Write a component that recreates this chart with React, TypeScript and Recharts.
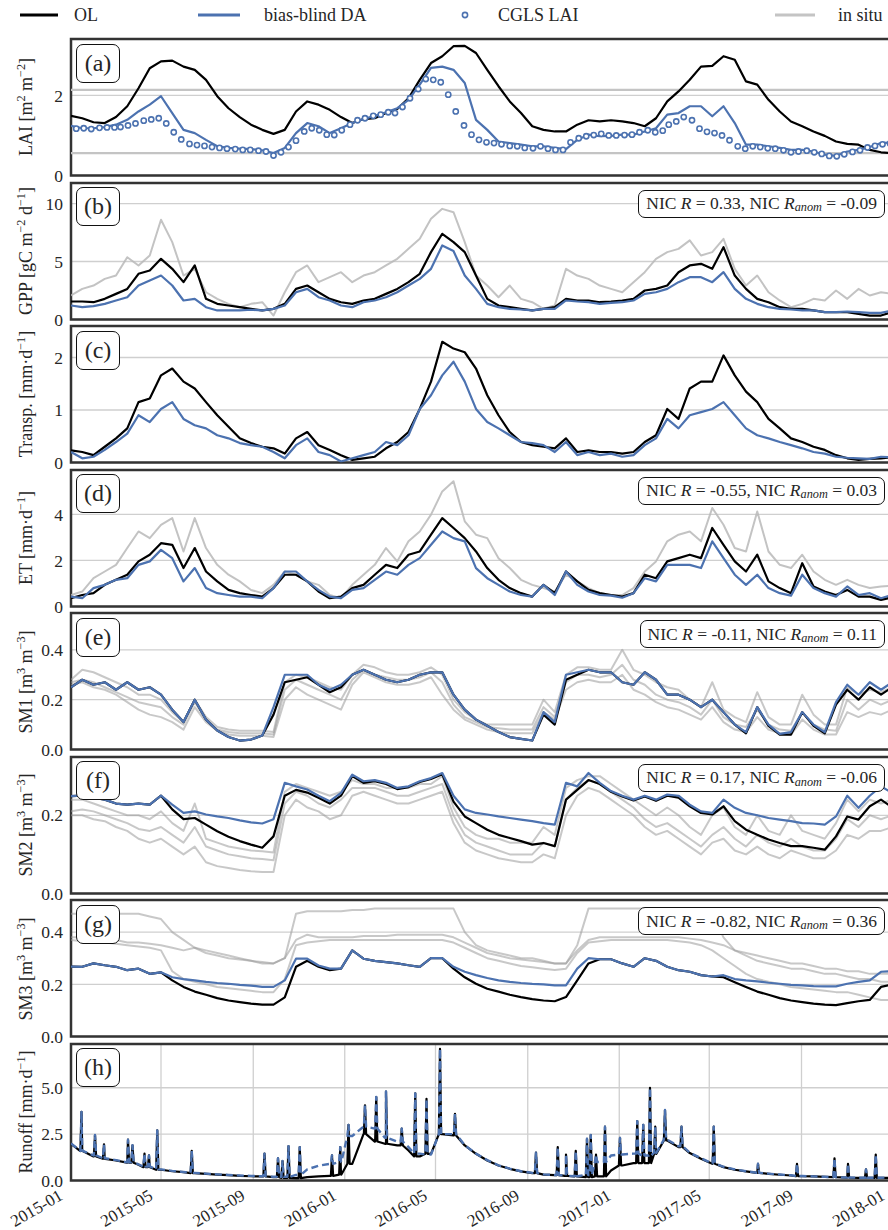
import React from 'react';
import {
  CartesianGrid,
  Line,
  LineChart,
  ReferenceArea,
  ReferenceLine,
  XAxis,
  YAxis,
} from 'recharts';

const OL_COLOR = '#000000';
const DA_COLOR = '#4c72b0';
const INSITU_COLOR = '#9a9a9a';
const FONT = '"Liberation Serif", "DejaVu Serif", serif';

// values are sampled every 15 days from 2015-01-01
const STEP = 15;
const tickDays = [0, 120, 243, 365, 486, 609, 731, 851, 974, 1096];
const tickLabels = ['2015-01', '2015-05', '2015-09', '2016-01', '2016-05', '2016-09', '2017-01', '2017-05', '2017-09', '2018-01'];

// (a) LAI
const laiOL = [1.49, 1.43, 1.33, 1.31, 1.46, 1.73, 2.18, 2.68, 2.85, 2.87, 2.72, 2.64, 2.39, 1.98, 1.68, 1.46, 1.27, 1.14, 1.04, 1.14, 1.6, 1.85, 1.77, 1.64, 1.46, 1.31, 1.41, 1.43, 1.56, 1.66, 1.93, 2.39, 2.81, 2.98, 3.23, 3.24, 3.06, 2.64, 2.23, 1.85, 1.56, 1.23, 1.14, 1.1, 1.1, 1.27, 1.38, 1.35, 1.38, 1.35, 1.31, 1.23, 1.43, 1.85, 2.1, 2.39, 2.72, 2.74, 2.98, 2.89, 2.35, 2.27, 1.89, 1.6, 1.35, 1.23, 1.1, 0.99, 0.85, 0.79, 0.77, 0.64, 0.58, 0.56];
const laiDA = [1.24, 1.18, 1.18, 1.21, 1.27, 1.39, 1.6, 1.77, 1.98, 1.56, 1.14, 1.06, 0.89, 0.73, 0.69, 0.67, 0.66, 0.63, 0.56, 0.69, 1.06, 1.31, 1.23, 1.06, 1.18, 1.31, 1.41, 1.49, 1.58, 1.68, 1.89, 2.27, 2.69, 2.72, 2.64, 2.31, 1.39, 1.14, 0.85, 0.81, 0.77, 0.73, 0.73, 0.69, 0.66, 0.89, 1.02, 0.98, 0.99, 1.02, 1.02, 1.1, 1.18, 1.52, 1.56, 1.73, 1.73, 1.48, 1.73, 1.31, 0.77, 0.77, 0.73, 0.69, 0.64, 0.64, 0.6, 0.52, 0.49, 0.6, 0.64, 0.71, 0.81, 0.83];
// CGLS LAI, three values per month (dekads)
const cglsDekadDays = [8, 18, 28];
const cglsLai = [
  1.17, 1.18, 1.16, 1.19, 1.2, 1.2, 1.21, 1.25, 1.3, 1.37, 1.4, 1.43, 1.3, 1.08, 0.9, 0.79, 0.76, 0.74, 0.71, 0.69, 0.67, 0.66, 0.64, 0.64, 0.62, 0.6, 0.5, 0.58, 0.71, 0.87, 1.1, 1.18, 1.13, 1.02, 1.01, 1.13,
  1.27, 1.38, 1.43, 1.49, 1.52, 1.58, 1.56, 1.71, 1.93, 2.16, 2.41, 2.39, 2.33, 2.02, 1.6, 1.25, 1.02, 0.89, 0.83, 0.81, 0.78, 0.74, 0.73, 0.69, 0.68, 0.73, 0.67, 0.64, 0.64, 0.83, 0.93, 0.98, 1.01, 1.04, 1.0, 1.0,
  1.01, 1.02, 1.08, 1.13, 1.08, 1.12, 1.27, 1.35, 1.46, 1.38, 1.17, 1.09, 1.06, 1.0, 0.88, 0.73, 0.67, 0.73, 0.71, 0.68, 0.67, 0.63, 0.58, 0.6, 0.62, 0.58, 0.54, 0.49, 0.48, 0.53, 0.59, 0.63, 0.7, 0.74, 0.78, 0.8,
];
const laiInsitu = [2.14, 0.56];

// (b) GPP
const gppOL = [1.55, 1.55, 1.49, 1.78, 2.21, 2.64, 3.94, 4.23, 5.23, 4.37, 3.22, 4.66, 1.78, 1.35, 1.21, 1.06, 0.92, 0.78, 0.92, 1.35, 2.64, 2.93, 2.35, 1.78, 1.49, 1.35, 1.64, 1.78, 2.21, 2.64, 3.22, 3.94, 5.81, 7.39, 6.67, 5.81, 3.79, 1.78, 1.21, 1.06, 0.92, 0.78, 0.92, 1.06, 1.78, 1.64, 1.64, 1.49, 1.55, 1.64, 1.78, 2.5, 2.64, 2.93, 4.08, 4.66, 4.8, 4.37, 6.24, 3.79, 2.64, 1.78, 1.49, 1.06, 0.92, 0.92, 0.78, 0.63, 0.63, 0.63, 0.49, 0.34, 0.34, 0.63];
const gppDA = [1.21, 1.06, 1.15, 1.35, 1.64, 1.92, 2.93, 3.36, 3.79, 2.93, 1.64, 1.78, 1.06, 0.78, 0.78, 0.78, 0.84, 0.78, 0.92, 1.21, 2.35, 2.64, 1.92, 1.64, 1.21, 1.06, 1.49, 1.64, 1.92, 2.35, 2.93, 3.5, 4.37, 6.38, 5.9, 3.79, 2.64, 1.35, 1.06, 0.92, 0.86, 0.78, 0.92, 0.92, 1.64, 1.55, 1.49, 1.35, 1.44, 1.49, 1.64, 2.21, 2.35, 2.64, 3.22, 3.65, 3.65, 3.22, 4.08, 2.64, 1.78, 1.35, 1.06, 0.92, 0.86, 0.78, 0.78, 0.63, 0.63, 0.69, 0.63, 0.57, 0.57, 0.78];
const gppInsitu = [2.07, 2.64, 2.93, 3.5, 3.79, 5.37, 4.66, 5.52, 8.6, 6.67, 3.79, 4.37, 2.35, 1.78, 1.35, 1.06, 1.35, 1.49, 0.34, 2.35, 4.08, 4.66, 3.22, 3.65, 4.08, 3.22, 3.79, 4.08, 4.66, 5.23, 6.09, 6.96, 8.68, 9.54, 9.25, 6.67, 3.79, 2.93, 1.92, 2.93, 1.78, 1.49, 0.92, 1.21, 4.37, 3.79, 3.5, 2.93, 2.64, 2.35, 3.22, 4.08, 5.23, 5.81, 6.09, 6.82, 5.52, 5.81, 6.96, 4.37, 2.93, 3.79, 2.35, 1.64, 1.06, 1.35, 1.78, 1.64, 2.5, 1.78, 2.64, 2.07, 2.35, 2.2];

// (c) transpiration
const transpOL = [0.23, 0.2, 0.14, 0.3, 0.46, 0.65, 1.15, 1.22, 1.66, 1.79, 1.54, 1.41, 1.15, 0.9, 0.68, 0.46, 0.37, 0.3, 0.27, 0.17, 0.46, 0.58, 0.33, 0.24, 0.14, 0.05, 0.08, 0.11, 0.27, 0.39, 0.58, 1.02, 1.54, 2.3, 2.17, 2.1, 1.79, 1.28, 0.9, 0.58, 0.39, 0.33, 0.3, 0.27, 0.46, 0.2, 0.23, 0.2, 0.2, 0.17, 0.2, 0.39, 0.52, 1.02, 0.83, 1.41, 1.54, 1.54, 2.04, 1.66, 1.35, 1.15, 0.83, 0.65, 0.46, 0.39, 0.3, 0.24, 0.14, 0.08, 0.05, 0.07, 0.08, 0.1];
const transpDA = [0.2, 0.08, 0.11, 0.24, 0.39, 0.55, 0.9, 0.77, 1.02, 1.15, 0.83, 0.71, 0.65, 0.52, 0.46, 0.37, 0.33, 0.3, 0.2, 0.08, 0.33, 0.46, 0.2, 0.14, 0.02, 0.08, 0.14, 0.2, 0.39, 0.33, 0.52, 1.02, 1.28, 1.66, 1.92, 1.54, 1.02, 0.77, 0.65, 0.52, 0.39, 0.37, 0.33, 0.2, 0.39, 0.14, 0.2, 0.14, 0.17, 0.11, 0.14, 0.33, 0.46, 0.83, 0.65, 0.9, 0.96, 1.02, 1.15, 0.9, 0.65, 0.52, 0.46, 0.39, 0.33, 0.27, 0.2, 0.17, 0.11, 0.09, 0.08, 0.07, 0.11, 0.1];

// (d) ET
const etOL = [0.36, 0.5, 0.58, 0.94, 1.16, 1.38, 1.96, 2.25, 2.75, 2.68, 1.67, 2.54, 1.52, 1.09, 0.72, 0.58, 0.5, 0.43, 0.8, 1.38, 1.38, 1.09, 0.65, 0.36, 0.43, 0.8, 0.94, 1.38, 1.81, 1.67, 2.25, 2.39, 3.12, 3.84, 3.41, 2.97, 2.39, 1.67, 1.16, 0.8, 0.58, 0.43, 0.94, 0.58, 1.52, 1.09, 0.72, 0.58, 0.5, 0.43, 0.58, 1.38, 1.23, 1.96, 2.1, 2.25, 2.1, 3.41, 2.68, 1.96, 1.52, 2.25, 1.09, 0.8, 0.58, 1.88, 0.87, 0.65, 0.5, 0.72, 0.43, 0.43, 0.29, 0.4];
const etDA = [0.43, 0.36, 0.8, 0.94, 1.16, 1.23, 1.81, 1.96, 2.46, 2.1, 1.09, 1.67, 0.8, 0.58, 0.5, 0.43, 0.43, 0.36, 0.8, 1.52, 1.52, 1.09, 0.72, 0.43, 0.36, 0.72, 0.8, 1.16, 1.52, 1.38, 1.81, 2.1, 2.68, 3.26, 2.97, 2.83, 1.67, 1.23, 0.94, 0.65, 0.5, 0.43, 0.94, 0.5, 1.52, 0.94, 0.65, 0.5, 0.47, 0.38, 0.58, 1.23, 1.09, 1.81, 1.81, 1.81, 1.67, 2.83, 2.1, 1.38, 0.94, 1.38, 0.8, 0.58, 0.47, 1.38, 0.8, 0.58, 0.43, 0.87, 0.5, 0.58, 0.36, 0.5];
const etInsitu = [0.5, 0.65, 1.23, 1.52, 1.81, 2.54, 3.26, 2.97, 3.55, 3.84, 2.39, 3.84, 2.54, 1.81, 1.38, 1.09, 0.72, 0.58, 0.94, 1.52, 1.38, 1.09, 0.94, 0.5, 0.36, 0.94, 1.38, 1.81, 2.54, 1.96, 2.83, 3.26, 3.99, 5.0, 5.44, 3.7, 3.12, 2.97, 2.1, 1.67, 1.16, 0.94, 0.8, 0.65, 1.38, 1.09, 0.8, 0.58, 0.5, 0.5, 0.8, 1.52, 1.96, 2.83, 3.12, 3.26, 2.83, 4.28, 3.55, 2.54, 2.39, 4.13, 2.39, 1.81, 1.67, 2.25, 1.52, 1.16, 0.94, 1.16, 0.94, 0.8, 0.87, 0.9];

// (e) SM1
const sm1OL = [0.25, 0.28, 0.26, 0.27, 0.24, 0.27, 0.24, 0.25, 0.22, 0.16, 0.11, 0.2, 0.12, 0.076, 0.05, 0.036, 0.04, 0.056, 0.14, 0.27, 0.28, 0.29, 0.26, 0.23, 0.25, 0.3, 0.32, 0.3, 0.28, 0.27, 0.28, 0.3, 0.31, 0.31, 0.22, 0.16, 0.12, 0.095, 0.07, 0.05, 0.043, 0.036, 0.14, 0.1, 0.28, 0.3, 0.32, 0.31, 0.31, 0.27, 0.26, 0.31, 0.28, 0.22, 0.22, 0.2, 0.17, 0.2, 0.15, 0.1, 0.065, 0.17, 0.095, 0.06, 0.06, 0.15, 0.095, 0.065, 0.18, 0.24, 0.2, 0.25, 0.22, 0.25];
const sm1DA = [0.25, 0.28, 0.26, 0.27, 0.24, 0.27, 0.24, 0.25, 0.22, 0.16, 0.11, 0.2, 0.12, 0.076, 0.05, 0.036, 0.04, 0.056, 0.17, 0.3, 0.3, 0.3, 0.26, 0.24, 0.26, 0.3, 0.32, 0.3, 0.28, 0.27, 0.28, 0.3, 0.31, 0.31, 0.22, 0.16, 0.12, 0.095, 0.07, 0.05, 0.043, 0.036, 0.15, 0.11, 0.3, 0.31, 0.32, 0.31, 0.31, 0.27, 0.26, 0.31, 0.28, 0.22, 0.22, 0.2, 0.17, 0.2, 0.15, 0.1, 0.07, 0.17, 0.1, 0.063, 0.07, 0.15, 0.1, 0.07, 0.19, 0.26, 0.22, 0.27, 0.24, 0.27];
const sm1InsituA = [0.28, 0.32, 0.31, 0.29, 0.27, 0.25, 0.22, 0.22, 0.2, 0.15, 0.11, 0.2, 0.13, 0.09, 0.08, 0.075, 0.075, 0.075, 0.07, 0.27, 0.3, 0.29, 0.27, 0.25, 0.24, 0.3, 0.34, 0.33, 0.31, 0.3, 0.3, 0.31, 0.33, 0.3, 0.2, 0.15, 0.12, 0.1, 0.1, 0.1, 0.1, 0.1, 0.2, 0.15, 0.3, 0.33, 0.33, 0.32, 0.32, 0.4, 0.32, 0.3, 0.27, 0.25, 0.24, 0.2, 0.17, 0.27, 0.16, 0.13, 0.11, 0.23, 0.13, 0.1, 0.1, 0.22, 0.14, 0.1, 0.1, 0.25, 0.22, 0.24, 0.23, 0.25];
const sm1InsituB = [0.27, 0.28, 0.27, 0.25, 0.23, 0.21, 0.19, 0.18, 0.17, 0.13, 0.1, 0.19, 0.12, 0.08, 0.07, 0.065, 0.065, 0.065, 0.06, 0.24, 0.28, 0.26, 0.24, 0.22, 0.2, 0.28, 0.32, 0.3, 0.29, 0.28, 0.28, 0.29, 0.31, 0.27, 0.18, 0.13, 0.11, 0.09, 0.085, 0.08, 0.08, 0.08, 0.17, 0.13, 0.27, 0.3, 0.3, 0.29, 0.3, 0.34, 0.28, 0.26, 0.22, 0.2, 0.19, 0.17, 0.14, 0.2, 0.13, 0.1, 0.09, 0.16, 0.1, 0.08, 0.075, 0.15, 0.1, 0.08, 0.075, 0.2, 0.16, 0.2, 0.18, 0.2];
const sm1InsituC = [0.26, 0.27, 0.25, 0.24, 0.22, 0.19, 0.16, 0.14, 0.13, 0.11, 0.08, 0.17, 0.11, 0.075, 0.06, 0.055, 0.055, 0.055, 0.05, 0.2, 0.25, 0.22, 0.2, 0.18, 0.16, 0.26, 0.31, 0.29, 0.27, 0.26, 0.26, 0.27, 0.29, 0.22, 0.16, 0.12, 0.1, 0.08, 0.07, 0.065, 0.065, 0.065, 0.15, 0.12, 0.24, 0.27, 0.28, 0.27, 0.27, 0.3, 0.24, 0.22, 0.19, 0.17, 0.16, 0.14, 0.12, 0.17, 0.11, 0.08, 0.07, 0.13, 0.08, 0.065, 0.06, 0.12, 0.08, 0.06, 0.06, 0.15, 0.13, 0.15, 0.14, 0.16];

// (f) SM2
const sm2OL = [0.249, 0.25, 0.245, 0.24, 0.23, 0.227, 0.23, 0.227, 0.25, 0.215, 0.19, 0.193, 0.176, 0.159, 0.145, 0.134, 0.125, 0.117, 0.146, 0.25, 0.265, 0.258, 0.245, 0.23, 0.25, 0.3, 0.283, 0.287, 0.28, 0.267, 0.272, 0.285, 0.293, 0.305, 0.235, 0.197, 0.18, 0.163, 0.15, 0.142, 0.134, 0.125, 0.129, 0.121, 0.24, 0.265, 0.29, 0.28, 0.26, 0.248, 0.238, 0.248, 0.237, 0.25, 0.245, 0.223, 0.206, 0.202, 0.223, 0.185, 0.163, 0.15, 0.138, 0.129, 0.121, 0.121, 0.117, 0.112, 0.146, 0.197, 0.189, 0.223, 0.24, 0.22];
const sm2DA = [0.249, 0.25, 0.245, 0.24, 0.23, 0.227, 0.23, 0.227, 0.25, 0.227, 0.206, 0.21, 0.202, 0.197, 0.193, 0.187, 0.182, 0.179, 0.19, 0.283, 0.274, 0.266, 0.25, 0.236, 0.257, 0.304, 0.287, 0.29, 0.283, 0.27, 0.274, 0.287, 0.295, 0.308, 0.25, 0.215, 0.206, 0.202, 0.197, 0.193, 0.189, 0.185, 0.18, 0.176, 0.283, 0.274, 0.308, 0.283, 0.262, 0.25, 0.24, 0.25, 0.24, 0.253, 0.25, 0.227, 0.21, 0.206, 0.24, 0.219, 0.206, 0.2, 0.193, 0.189, 0.185, 0.18, 0.179, 0.176, 0.197, 0.25, 0.219, 0.25, 0.274, 0.257];
const sm2InsituA = [0.24, 0.24, 0.23, 0.22, 0.21, 0.2, 0.2, 0.19, 0.21, 0.18, 0.16, 0.23, 0.14, 0.13, 0.12, 0.115, 0.11, 0.108, 0.105, 0.26, 0.28, 0.27, 0.26, 0.25, 0.26, 0.29, 0.28, 0.28, 0.27, 0.27, 0.27, 0.28, 0.28, 0.3, 0.22, 0.17, 0.15, 0.14, 0.14, 0.13, 0.13, 0.13, 0.17, 0.15, 0.27, 0.29, 0.3, 0.3, 0.28, 0.26, 0.24, 0.22, 0.2, 0.22, 0.2, 0.17, 0.15, 0.2, 0.22, 0.17, 0.15, 0.2, 0.16, 0.15, 0.2, 0.16, 0.15, 0.14, 0.18, 0.24, 0.21, 0.24, 0.23, 0.24];
const sm2InsituB = [0.21, 0.215, 0.21, 0.2, 0.19, 0.18, 0.165, 0.16, 0.17, 0.15, 0.13, 0.17, 0.12, 0.11, 0.1, 0.095, 0.09, 0.088, 0.085, 0.23, 0.26, 0.25, 0.23, 0.22, 0.24, 0.27, 0.27, 0.27, 0.26, 0.25, 0.25, 0.26, 0.27, 0.28, 0.2, 0.15, 0.13, 0.12, 0.11, 0.1, 0.1, 0.1, 0.13, 0.12, 0.24, 0.27, 0.29, 0.28, 0.26, 0.24, 0.22, 0.19, 0.17, 0.18, 0.16, 0.14, 0.12, 0.15, 0.17, 0.14, 0.12, 0.15, 0.13, 0.12, 0.14, 0.12, 0.11, 0.11, 0.14, 0.19, 0.17, 0.2, 0.19, 0.2];
const sm2InsituC = [0.2, 0.2, 0.19, 0.185, 0.17, 0.16, 0.14, 0.13, 0.14, 0.12, 0.1, 0.12, 0.08, 0.07, 0.065, 0.06, 0.057, 0.055, 0.055, 0.2, 0.24, 0.22, 0.21, 0.19, 0.2, 0.25, 0.26, 0.25, 0.24, 0.23, 0.23, 0.24, 0.25, 0.26, 0.18, 0.13, 0.11, 0.1, 0.09, 0.085, 0.08, 0.08, 0.1, 0.09, 0.2, 0.25, 0.27, 0.26, 0.24, 0.22, 0.2, 0.17, 0.15, 0.16, 0.14, 0.12, 0.1, 0.13, 0.14, 0.11, 0.1, 0.12, 0.1, 0.09, 0.11, 0.1, 0.09, 0.09, 0.11, 0.15, 0.14, 0.16, 0.16, 0.17];

// (g) SM3
const sm3OL = [0.268, 0.267, 0.28, 0.273, 0.267, 0.254, 0.26, 0.24, 0.246, 0.215, 0.19, 0.172, 0.16, 0.147, 0.138, 0.132, 0.126, 0.122, 0.122, 0.15, 0.267, 0.29, 0.267, 0.254, 0.26, 0.33, 0.298, 0.29, 0.285, 0.28, 0.273, 0.267, 0.3, 0.3, 0.26, 0.227, 0.202, 0.183, 0.172, 0.16, 0.151, 0.143, 0.138, 0.135, 0.151, 0.215, 0.28, 0.296, 0.296, 0.28, 0.267, 0.3, 0.29, 0.267, 0.254, 0.248, 0.235, 0.23, 0.227, 0.208, 0.19, 0.172, 0.16, 0.147, 0.138, 0.132, 0.126, 0.122, 0.12, 0.128, 0.135, 0.14, 0.19, 0.2];
const sm3DA = [0.268, 0.267, 0.28, 0.273, 0.267, 0.254, 0.26, 0.24, 0.246, 0.227, 0.22, 0.215, 0.209, 0.205, 0.202, 0.198, 0.195, 0.19, 0.19, 0.215, 0.298, 0.298, 0.272, 0.26, 0.26, 0.33, 0.298, 0.29, 0.285, 0.28, 0.273, 0.267, 0.3, 0.3, 0.267, 0.248, 0.235, 0.224, 0.215, 0.209, 0.205, 0.202, 0.2, 0.196, 0.196, 0.26, 0.3, 0.296, 0.296, 0.28, 0.267, 0.3, 0.29, 0.267, 0.254, 0.248, 0.235, 0.23, 0.235, 0.22, 0.215, 0.211, 0.206, 0.202, 0.198, 0.196, 0.193, 0.192, 0.192, 0.202, 0.209, 0.215, 0.248, 0.25];
const sm3InsituA = [0.47, 0.47, 0.47, 0.47, 0.47, 0.47, 0.47, 0.46, 0.45, 0.4, 0.37, 0.34, 0.33, 0.32, 0.31, 0.3, 0.29, 0.28, 0.28, 0.3, 0.47, 0.48, 0.48, 0.48, 0.48, 0.485, 0.485, 0.49, 0.49, 0.49, 0.49, 0.49, 0.49, 0.49, 0.49, 0.4, 0.35, 0.33, 0.32, 0.31, 0.3, 0.3, 0.29, 0.28, 0.28, 0.35, 0.49, 0.49, 0.49, 0.49, 0.49, 0.49, 0.49, 0.49, 0.49, 0.49, 0.49, 0.47, 0.38, 0.33, 0.31, 0.29, 0.28, 0.27, 0.26, 0.26, 0.25, 0.24, 0.24, 0.23, 0.22, 0.22, 0.21, 0.21];
const sm3InsituB = [0.38, 0.38, 0.375, 0.37, 0.37, 0.36, 0.36, 0.355, 0.35, 0.34, 0.33, 0.34, 0.32, 0.31, 0.3, 0.295, 0.29, 0.285, 0.28, 0.3, 0.37, 0.39, 0.38, 0.38, 0.38, 0.38, 0.385, 0.385, 0.385, 0.39, 0.39, 0.39, 0.39, 0.39, 0.38, 0.36, 0.34, 0.32, 0.31, 0.3, 0.295, 0.29, 0.285, 0.28, 0.28, 0.33, 0.37, 0.38, 0.38, 0.38, 0.38, 0.38, 0.38, 0.38, 0.38, 0.375, 0.37, 0.36, 0.35, 0.33, 0.32, 0.31, 0.3, 0.29, 0.28, 0.28, 0.27, 0.26, 0.26, 0.25, 0.25, 0.24, 0.24, 0.24];
const sm3InsituC = [0.37, 0.365, 0.36, 0.36, 0.355, 0.35, 0.345, 0.34, 0.33, 0.25, 0.22, 0.21, 0.2, 0.19, 0.185, 0.18, 0.175, 0.17, 0.17, 0.22, 0.35, 0.36, 0.365, 0.37, 0.37, 0.37, 0.37, 0.37, 0.37, 0.37, 0.37, 0.37, 0.37, 0.37, 0.36, 0.34, 0.32, 0.3, 0.29, 0.28, 0.27, 0.265, 0.26, 0.255, 0.26, 0.32, 0.36, 0.365, 0.37, 0.37, 0.37, 0.37, 0.37, 0.37, 0.365, 0.36, 0.35, 0.33, 0.3, 0.27, 0.24, 0.22, 0.21, 0.2, 0.19, 0.185, 0.18, 0.175, 0.17, 0.17, 0.16, 0.15, 0.14, 0.14];

// (h) runoff: slow baseline plus short rain peaks [day, value]
const runoffOL = [1.98, 1.59, 1.3, 1.17, 1.08, 0.96, 0.85, 0.72, 0.58, 0.5, 0.45, 0.4, 0.36, 0.32, 0.29, 0.25, 0.23, 0.22, 0.18, 0.14, 0.13, 0.18, 0.22, 0.25, 0.32, 0.9, 2.5, 2.1, 1.98, 1.89, 1.62, 1.3, 1.44, 2.5, 2.43, 1.89, 1.44, 1.08, 0.81, 0.63, 0.49, 0.4, 0.32, 0.29, 0.25, 0.22, 0.18, 0.22, 0.54, 0.81, 0.94, 0.94, 1.44, 2.16, 1.8, 1.48, 1.17, 0.9, 0.72, 0.58, 0.49, 0.41, 0.36, 0.31, 0.27, 0.23, 0.22, 0.2, 0.18, 0.16, 0.14, 0.14, 0.14, 0.15];
const runoffDA = [2.0, 1.6, 1.35, 1.2, 1.1, 0.98, 0.87, 0.75, 0.6, 0.52, 0.46, 0.41, 0.37, 0.33, 0.3, 0.27, 0.25, 0.23, 0.2, 0.2, 0.3, 0.6, 0.8, 0.9, 1.0, 2.4, 2.9, 2.8, 2.3, 2.1, 1.8, 1.45, 1.4, 2.5, 2.5, 1.9, 1.45, 1.1, 0.82, 0.64, 0.5, 0.41, 0.33, 0.3, 0.26, 0.23, 0.3, 1.0, 1.35, 1.4, 1.45, 1.35, 1.5, 2.2, 1.85, 1.5, 1.2, 0.92, 0.74, 0.6, 0.5, 0.42, 0.37, 0.32, 0.28, 0.24, 0.22, 0.2, 0.18, 0.16, 0.15, 0.15, 0.15, 0.16];
const runoffPeaks = [
  [14, 3.7], [32, 2.45], [44, 1.95], [76, 2.2], [82, 1.9], [98, 1.45], [104, 1.35], [115, 2.7], [161, 1.6],
  [258, 1.45], [276, 1.2], [282, 1.05], [290, 1.85], [305, 1.8], [348, 1.35], [359, 1.8], [370, 3.0], [392, 4.05],
  [407, 4.5], [420, 4.8], [441, 2.8], [459, 4.7], [474, 4.4], [492, 7.1], [512, 3.6], [620, 1.5], [649, 1.8],
  [660, 1.4], [673, 1.6], [688, 2.25], [693, 2.45], [700, 1.4], [712, 2.9], [732, 2.3], [755, 3.2], [763, 3.0],
  [772, 5.0], [779, 2.9], [792, 3.8], [814, 2.9], [857, 2.9], [916, 0.9], [968, 0.9], [1018, 1.2], [1036, 0.9],
  [1060, 0.6], [1073, 1.4],
];

type Pt = { day: number; v: number };

const onGrid = (vals: number[]): Pt[] => vals.map((v, i) => ({ day: i * STEP, v }));

const withPeaks = (base: number[], peaks: number[][]): Pt[] => {
  const pts = onGrid(base);
  peaks.forEach(([d, peak]) => {
    const foot = base[Math.min(base.length - 1, Math.round(d / STEP))];
    pts.push({ day: d - 1.5, v: foot }, { day: d, v: peak }, { day: d + 1.5, v: foot });
  });
  return pts.sort((a, b) => a.day - b.day);
};

const dekads = (vals: number[]): Pt[] =>
  vals.map((v, j) => ({
    day: (Date.UTC(2015, Math.floor(j / 3), cglsDekadDays[j % 3]) - Date.UTC(2015, 0, 1)) / 86400000,
    v,
  }));

type SeriesDef = {
  name: string;
  data: Pt[];
  color: string;
  width?: number;
  opacity?: number;
  dash?: string;
  markers?: boolean;
};

const insitu = (name: string, vals: number[]): SeriesDef => ({ name, data: onGrid(vals), color: INSITU_COLOR, width: 2, opacity: 0.55 });
const ol = (vals: number[]): SeriesDef => ({ name: 'OL', data: onGrid(vals), color: OL_COLOR, width: 2.2 });
const da = (vals: number[]): SeriesDef => ({ name: 'DA', data: onGrid(vals), color: DA_COLOR, width: 2.2 });

const Sup = ({ children }: { children: React.ReactNode }) => (
  <sup style={{ fontSize: '0.68em', verticalAlign: 'super', lineHeight: 0 }}>{children}</sup>
);

const Note = ({ r, anom }: { r: string; anom: string }) => (
  <>
    NIC <i>R</i> = {r}, NIC <i>R</i>
    <i style={{ fontSize: '0.7em', position: 'relative', top: '0.35em' }}>anom</i> = {anom}
  </>
);

const fmtInt = (v: number) => String(v);
const fmt1 = (v: number) => v.toFixed(1);

const PANEL_TOP = 39;
const PANEL_STEP = 143.57;
const PANEL_H = 136.5;
const PAD = 12;
const CHART_W = 900;

const panels = [
  {
    letter: 'a', label: <>LAI [m<Sup>2</Sup> m<Sup>−2</Sup>]</>, domain: [0, 3.41], ticks: [0, 2], fmt: fmtInt,
    refs: laiInsitu, note: null,
    series: [ol(laiOL), da(laiDA), { name: 'CGLS', data: dekads(cglsLai), color: DA_COLOR, markers: true }],
  },
  {
    letter: 'b', label: <>GPP [gC m<Sup>−2</Sup> d<Sup>−1</Sup>]</>, domain: [0, 11.77], ticks: [0, 5, 10], fmt: fmtInt,
    note: <Note r="0.33" anom="-0.09" />,
    series: [{ ...insitu('insitu', gppInsitu), color: '#b8b8b8', opacity: 0.85 }, ol(gppOL), da(gppDA)],
  },
  {
    letter: 'c', label: <>Transp. [mm·d<Sup>−1</Sup>]</>, domain: [0, 2.6], ticks: [0, 1, 2], fmt: fmtInt,
    note: null,
    series: [ol(transpOL), da(transpDA)],
  },
  {
    letter: 'd', label: <>ET [mm·d<Sup>−1</Sup>]</>, domain: [0, 5.93], ticks: [0, 2, 4], fmt: fmtInt,
    note: <Note r="-0.55" anom="0.03" />,
    series: [{ ...insitu('insitu', etInsitu), color: '#b8b8b8', opacity: 0.85 }, ol(etOL), da(etDA)],
  },
  {
    letter: 'e', label: <>SM1 [m<Sup>3</Sup> m<Sup>−3</Sup>]</>, domain: [0, 0.548], ticks: [0, 0.2, 0.4], fmt: fmt1,
    note: <Note r="-0.11" anom="0.11" />,
    series: [insitu('a', sm1InsituA), insitu('b', sm1InsituB), insitu('c', sm1InsituC), ol(sm1OL), da(sm1DA)],
  },
  {
    letter: 'f', label: <>SM2 [m<Sup>3</Sup> m<Sup>−3</Sup>]</>, domain: [0, 0.349], ticks: [0, 0.2], fmt: fmt1,
    note: <Note r="0.17" anom="-0.06" />,
    series: [insitu('a', sm2InsituA), insitu('b', sm2InsituB), insitu('c', sm2InsituC), ol(sm2OL), da(sm2DA)],
  },
  {
    letter: 'g', label: <>SM3 [m<Sup>3</Sup> m<Sup>−3</Sup>]</>, domain: [0, 0.523], ticks: [0, 0.2, 0.4], fmt: fmt1,
    note: <Note r="-0.82" anom="0.36" />,
    series: [insitu('a', sm3InsituA), insitu('b', sm3InsituB), insitu('c', sm3InsituC), ol(sm3OL), da(sm3DA)],
  },
  {
    letter: 'h', label: <>Runoff [mm·d<Sup>−1</Sup>]</>, domain: [0, 7.36], ticks: [0, 2.5, 5], fmt: fmt1,
    note: null,
    series: [
      { name: 'OL', data: withPeaks(runoffOL, runoffPeaks), color: OL_COLOR, width: 2.2 },
      { name: 'DA', data: withPeaks(runoffDA, runoffPeaks), color: DA_COLOR, width: 2.4, dash: '7 4' },
    ],
  },
];

// rotated date label: the lower right end of the text sits under the tick
const DateTick = (props: any) => {
  const { x, y, payload } = props;
  const label = tickLabels[tickDays.indexOf(payload.value)];
  return (
    <g transform={`translate(${x - 13},${y + 6}) rotate(-30)`}>
      <text x={0} y={0} dy="0.7em" textAnchor="end" fill="#262626" fontSize={17} fontFamily={FONT}>
        {label}
      </text>
    </g>
  );
};

function Panel({ p, index }: { p: (typeof panels)[number]; index: number }) {
  const top = PANEL_TOP + index * PANEL_STEP;
  const last = index === panels.length - 1;
  const xAxisH = last ? 60 : 0;
  return (
    <>
      <div style={{ position: 'absolute', left: 0, top: top - PAD }}>
        <LineChart
          width={CHART_W}
          height={PAD + PANEL_H + (last ? 0 : PAD) + xAxisH}
          margin={{ top: PAD, right: 7, bottom: last ? 0 : PAD, left: 0 }}
        >
          <CartesianGrid stroke="#cfcfcf" strokeWidth={1.3} />
          <XAxis
            type="number"
            dataKey="day"
            domain={[0, 1096]}
            ticks={tickDays}
            interval={0}
            allowDataOverflow
            height={xAxisH}
            axisLine={false}
            tickLine={false}
            tickSize={0}
            tick={last ? <DateTick /> : false}
          />
          <YAxis
            type="number"
            domain={p.domain}
            ticks={p.ticks}
            interval={0}
            allowDataOverflow
            width={71}
            axisLine={false}
            tickLine={false}
            tickSize={0}
            tickMargin={8}
            tickFormatter={p.fmt}
            tick={{ fill: '#262626', fontSize: 17.5, fontFamily: FONT }}
          />
          {(p.refs || []).map((v) => (
            <ReferenceLine key={v} y={v} stroke="#c4c4c4" strokeWidth={2.2} />
          ))}
          {p.series.map((s: SeriesDef, i: number) => (
            <Line
              key={`${s.name}-${i}`}
              data={s.data}
              dataKey="v"
              type="linear"
              stroke={s.markers ? 'none' : s.color}
              strokeWidth={s.width ?? 2}
              strokeOpacity={s.opacity ?? 1}
              strokeDasharray={s.dash}
              strokeLinejoin="round"
              dot={s.markers ? { r: 2.6, stroke: s.color, strokeWidth: 1.6, fill: '#ffffff' } : false}
              activeDot={false}
              isAnimationActive={false}
            />
          ))}
          <ReferenceArea
            x1={0}
            x2={1096}
            y1={p.domain[0]}
            y2={p.domain[1]}
            fill="none"
            stroke="#333333"
            strokeWidth={2.5}
          />
        </LineChart>
      </div>
      {/* y label */}
      <div
        style={{
          position: 'absolute',
          left: 26,
          top: top + PANEL_H / 2,
          transform: 'translate(-50%, -50%) rotate(-90deg)',
          whiteSpace: 'nowrap',
          fontSize: 18,
          color: '#262626',
        }}
      >
        {p.label}
      </div>
      {/* panel letter */}
      <div
        style={{
          position: 'absolute',
          left: 76,
          top: top + 4.5,
          width: 44,
          height: 39,
          boxSizing: 'border-box',
          border: '1.6px solid #111',
          borderRadius: 7,
          background: '#fff',
          fontSize: 24,
          display: 'flex',
          alignItems: 'center',
          justifyContent: 'center',
          color: '#262626',
        }}
      >
        ({p.letter})
      </div>
      {p.note && (
        <div
          style={{
            position: 'absolute',
            right: 3,
            top: top + 7,
            height: 28,
            boxSizing: 'border-box',
            padding: '0 7px',
            border: '1.6px solid #111',
            borderRadius: 7,
            background: '#fff',
            fontSize: 17.5,
            display: 'flex',
            alignItems: 'center',
            whiteSpace: 'pre',
            color: '#262626',
          }}
        >
          {p.note}
        </div>
      )}
    </>
  );
}

function LegendRow() {
  const y = 15;
  const text = { fontSize: 18, fontFamily: FONT, fill: '#262626', dominantBaseline: 'central' as const };
  return (
    <svg width={888} height={34} style={{ position: 'absolute', left: 0, top: 0 }}>
      <line x1={20} x2={58} y1={y} y2={y} stroke={OL_COLOR} strokeWidth={3} />
      <text x={74} y={y} {...text}>OL</text>
      <line x1={198} x2={240} y1={y} y2={y} stroke={DA_COLOR} strokeWidth={3} />
      <text x={264} y={y} {...text}>bias-blind DA</text>
      <circle cx={465} cy={y} r={2.6} stroke={DA_COLOR} strokeWidth={1.6} fill="#fff" />
      <text x={498} y={y} {...text}>CGLS LAI</text>
      <line x1={775} x2={815} y1={y} y2={y} stroke="#c4c4c4" strokeWidth={3} />
      <text x={838} y={y} {...text}>in situ</text>
    </svg>
  );
}

export default function App() {
  return (
    <div
      style={{
        position: 'absolute',
        left: 0,
        top: 0,
        width: 888,
        height: 1230,
        overflow: 'hidden',
        background: '#ffffff',
        fontFamily: FONT,
      }}
    >
      <LegendRow />
      {panels.map((p, i) => (
        <Panel key={p.letter} p={p} index={i} />
      ))}
    </div>
  );
}
